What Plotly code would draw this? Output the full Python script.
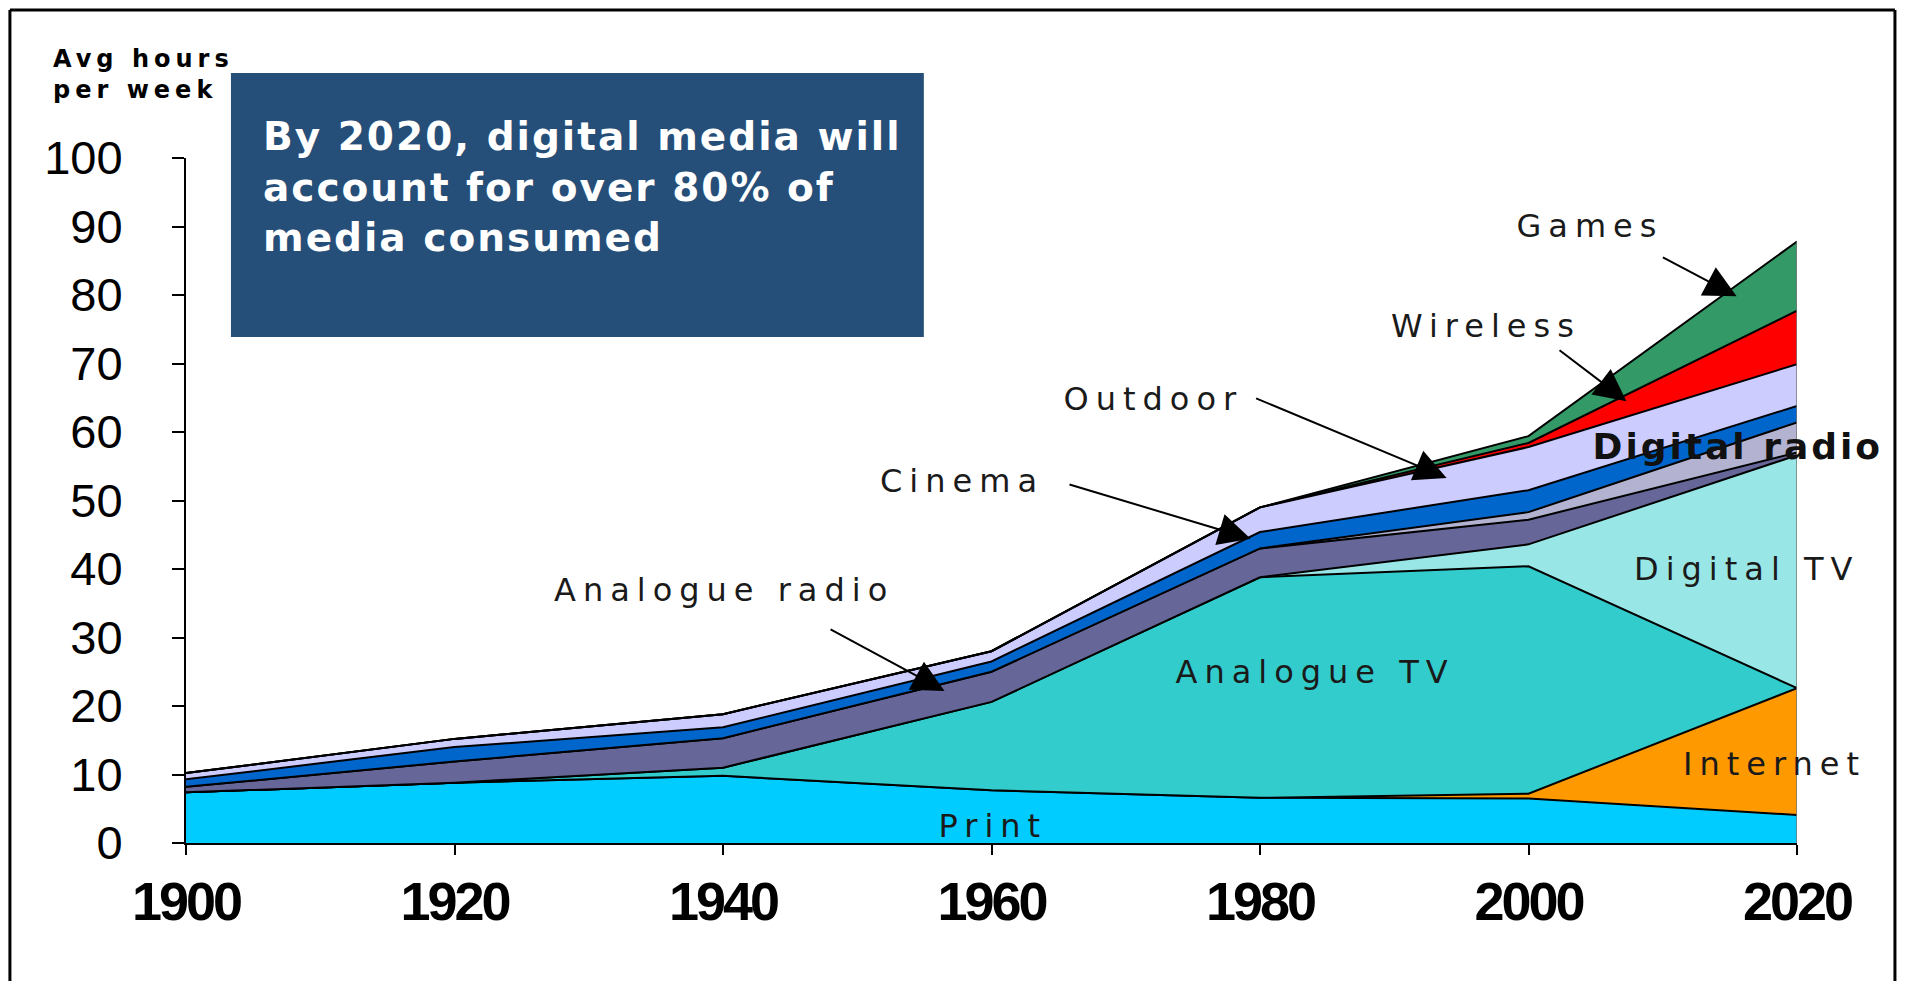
import json
import plotly.graph_objects as go

# ---- data (avg hours per week, stacked) ----
years = [1900, 1920, 1940, 1960, 1980, 2000, 2020]
print_media = [7.4, 8.8, 9.8, 7.7, 6.6, 6.5, 4.1]
internet = [0, 0, 0, 0, 0, 0.7, 18.5]
analogue_tv = [0, 0, 1.2, 12.9, 32.2, 33.2, 0]
digital_tv = [0, 0, 0, 0, 0, 3.2, 34.0]
analogue_radio = [0.8, 3.1, 4.3, 4.4, 4.2, 3.6, 0.4]
digital_radio = [0, 0, 0, 0, 0, 1.1, 4.4]
cinema = [1.1, 2.1, 1.6, 1.5, 2.4, 3.2, 2.4]
outdoor = [0.9, 1.2, 1.9, 1.5, 3.6, 6.3, 6.1]
wireless = [0, 0, 0, 0, 0, 0.6, 7.8]
games = [0, 0, 0, 0, 0, 1.0, 10.1]

x_ticks = [1900, 1920, 1940, 1960, 1980, 2000, 2020]
y_ticks = [0, 10, 20, 30, 40, 50, 60, 70, 80, 90, 100]

series = [
    ("Print", print_media, "#00CCFF"),
    ("Internet", internet, "#FF9900"),
    ("Analogue TV", analogue_tv, "#33CCCC"),
    ("Digital TV", digital_tv, "#99E6E6"),
    ("Analogue radio", analogue_radio, "#666699"),
    ("Digital radio", digital_radio, "#B3B3D1"),
    ("Cinema", cinema, "#0066CC"),
    ("Outdoor", outdoor, "#CCCCFF"),
    ("Wireless", wireless, "#FF0000"),
    ("Games", games, "#339966"),
]

fig = go.Figure()
for name, vals, col in series:
    fig.add_trace(go.Scatter(
        x=years, y=vals, name=name, mode="lines", stackgroup="one",
        line=dict(color="black", width=2), fillcolor=col, showlegend=False,
    ))

# thin edge at the right end of the stack
totals = [sum(v[i] for _, v, _ in series) for i in range(len(years))]
fig.add_shape(type="line", xref="x", yref="y", x0=years[-1], x1=years[-1],
              y0=0, y1=totals[-1], line=dict(color="#777777", width=1.5))

label_font = dict(family="DejaVu Sans", size=32, color="#1a1a1a")
labels = [
    ("Games", 2004.6, 90.1),
    ("Wireless", 1996.8, 75.5),
    ("Outdoor", 1972.1, 64.8),
    ("Cinema", 1957.8, 52.9),
    ("Analogue radio", 1940.1, 36.9),
    ("Analogue TV", 1984.1, 24.9),
    ("Digital TV", 2016.3, 40.0),
    ("Print", 1960.1, 2.5),
    ("Internet", 2018.3, 11.5),
]
for txt, lx, ly in labels:
    fig.add_annotation(x=lx, y=ly, xref="x", yref="y", text=txt, showarrow=False,
                       font=label_font, xanchor="center", yanchor="middle")

fig.add_annotation(x=2015.6, y=57.9, xref="x", yref="y", text="<b>Digital radio</b>",
                   showarrow=False, font=dict(family="DejaVu Sans", size=36, color="#111111"),
                   xanchor="center", yanchor="middle")

arrows = [
    (2015.5, 79.8, 2009.9, 85.6),
    (2007.3, 64.5, 2002.2, 72.1),
    (1993.9, 53.3, 1979.6, 65.0),
    (1979.3, 44.4, 1965.7, 52.4),
    (1956.5, 22.2, 1947.9, 31.3),
]
for tx, ty, sx, sy in arrows:
    fig.add_annotation(x=tx, y=ty, xref="x", yref="y", ax=sx, ay=sy, axref="x", ayref="y",
                       text="", showarrow=True, arrowhead=2, arrowsize=3.2, arrowwidth=2,
                       arrowcolor="black")

# headline box
fig.add_shape(type="rect", xref="paper", yref="paper", x0=0.0279, x1=0.458, y0=0.7387, y1=1.124,
              fillcolor="#254E78", line=dict(width=0), layer="above")
fig.add_annotation(xref="paper", yref="paper", x=0.0466, y=1.067, xanchor="left", yanchor="top",
                   align="left", showarrow=False,
                   text="<b>By 2020, digital media will<br>account for over 80% of<br>media consumed</b>",
                   font=dict(family="DejaVu Sans", size=39, color="white"))

# axis title
fig.add_annotation(xref="paper", yref="paper", x=-0.0838, y=1.168, xanchor="left", yanchor="top",
                   align="left", showarrow=False, text="<b>Avg hours<br>per week</b>",
                   font=dict(family="DejaVu Sans", size=24, color="black"))

# outer frame
for x0, y0, x1, y1 in [(-0.1093, 1.216, 1.0608, 1.216), (-0.1093, 1.216, -0.1093, -0.23),
                       (1.0608, 1.216, 1.0608, -0.23)]:
    fig.add_shape(type="line", xref="paper", yref="paper", x0=x0, y0=y0, x1=x1, y1=y1,
                  line=dict(color="black", width=3))

fig.update_layout(
    width=1907, height=981,
    margin=dict(l=178, r=118, t=150, b=146),
    paper_bgcolor="white", plot_bgcolor="white",
    xaxis=dict(range=[1900, 2020], tickvals=x_ticks, ticktext=[str(v) for v in x_ticks],
               showgrid=False, zeroline=False, showline=True, linecolor="black", linewidth=2,
               ticks="outside", ticklen=10, tickwidth=2, tickcolor="black",
               ticklabelstandoff=0,
               tickfont=dict(family="Liberation Sans", size=54, color="black", weight="bold")),
    yaxis=dict(range=[0, 100], tickvals=y_ticks, showgrid=False, zeroline=False, showline=True,
               linecolor="black", linewidth=2, ticks="outside", ticklen=12, tickwidth=2,
               tickcolor="black", ticklabelstandoff=40,
               tickfont=dict(family="Liberation Sans", size=47, color="black")),
)

spacing = {"Games": 7, "Wireless": 7, "Outdoor": 7, "Cinema": 7, "Analogue radio": 7,
           "Analogue TV": 7, "Digital TV": 7, "Print": 7, "Internet": 7, "Digital radio": 3,
           "Avg hoursper week": 5,
           "By 2020, digital media willaccount for over 80% ofmedia consumed": 2}
post = ("var gd=document.getElementById('{plot_id}');var sp=" + json.dumps(spacing) + ";"
        "function ap(){gd.querySelectorAll('text.annotation-text').forEach(function(t){"
        "var k=t.textContent;if(sp.hasOwnProperty(k)){t.style.letterSpacing=sp[k]+'px';}});"
        "gd.querySelectorAll('g.xtick text').forEach(function(t){t.style.letterSpacing='-3px';});}"
        "ap();if(gd.on){gd.on('plotly_afterplot',ap);}setTimeout(ap,0);")

fig.write_html("out.html", post_script=post)
